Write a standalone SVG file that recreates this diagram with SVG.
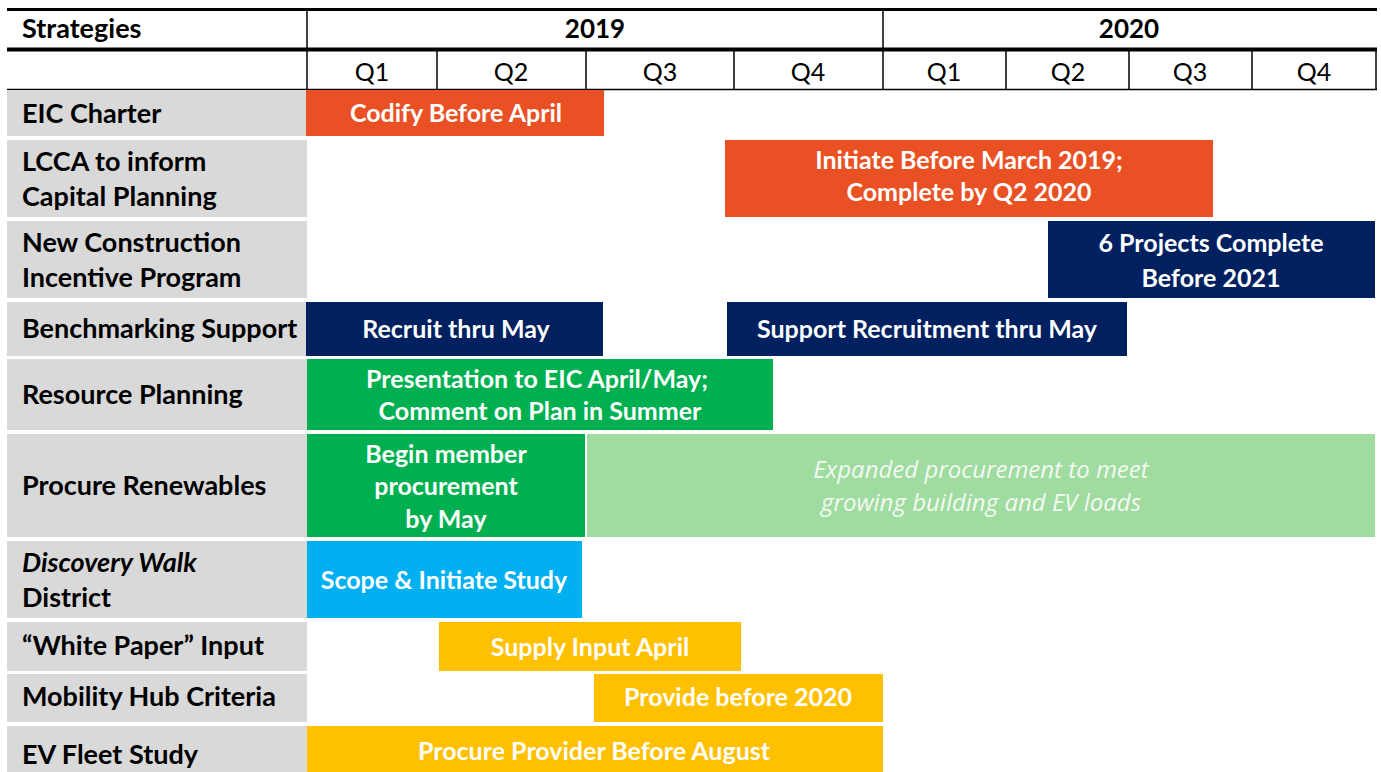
<svg xmlns="http://www.w3.org/2000/svg" width="1381" height="772" viewBox="0 0 1381 772">
<style>
.lbl{font-family:Lato,"Liberation Sans",sans-serif;font-weight:bold;font-size:27px;fill:#000}
.hdr{font-family:Lato,"Liberation Sans",sans-serif;font-weight:bold;font-size:26px;fill:#000;text-anchor:middle}
.q{font-family:Lato,"Liberation Sans",sans-serif;font-size:25px;fill:#000;text-anchor:middle}
.bt{font-family:Lato,"Liberation Sans",sans-serif;font-weight:bold;font-size:25px;fill:#fff;text-anchor:middle}
.it{font-family:"Open Sans","Liberation Sans",sans-serif;font-style:italic;font-size:24px;fill:#f2faf2;text-anchor:middle}
.gray{fill:#d9d9d9}
.ln{stroke:#000;fill:none}
</style>
<rect width="1381" height="772" fill="#fff"/>
<g id="header">
  <line class="ln" x1="7" y1="9.5" x2="1377" y2="9.5" stroke-width="3"/>
  <line class="ln" x1="7" y1="49.5" x2="1377" y2="49.5" stroke-width="4"/>
  <line class="ln" x1="7" y1="89.5" x2="1377" y2="89.5" stroke-width="1.5"/>
  <line class="ln" x1="307" y1="9" x2="307" y2="90" stroke-width="1.5"/>
  <line class="ln" x1="883" y1="9" x2="883" y2="90" stroke-width="1.5"/>
  <line class="ln" x1="437" y1="50" x2="437" y2="90" stroke-width="1.5"/>
  <line class="ln" x1="586" y1="50" x2="586" y2="90" stroke-width="1.5"/>
  <line class="ln" x1="734" y1="50" x2="734" y2="90" stroke-width="1.5"/>
  <line class="ln" x1="1006" y1="50" x2="1006" y2="90" stroke-width="1.5"/>
  <line class="ln" x1="1129" y1="50" x2="1129" y2="90" stroke-width="1.5"/>
  <line class="ln" x1="1252" y1="50" x2="1252" y2="90" stroke-width="1.5"/>
  <line class="ln" x1="1376" y1="50" x2="1376" y2="90" stroke-width="1.5"/>
  <text class="lbl" x="22" y="38">Strategies</text>
  <text class="hdr" x="595" y="38">2019</text>
  <text class="hdr" x="1129" y="38">2020</text>
  <text class="q" x="372" y="81">Q1</text>
  <text class="q" x="511" y="81">Q2</text>
  <text class="q" x="660" y="81">Q3</text>
  <text class="q" x="808" y="81">Q4</text>
  <text class="q" x="944" y="81">Q1</text>
  <text class="q" x="1068" y="81">Q2</text>
  <text class="q" x="1190" y="81">Q3</text>
  <text class="q" x="1314" y="81">Q4</text>
</g>
<g id="row-eic">
  <rect class="gray" x="7" y="90" width="300" height="46"/>
  <text class="lbl" x="22" y="123">EIC Charter</text>
  <rect x="306" y="90" width="298" height="46" fill="#e95125"/>
  <text class="bt" x="456" y="122">Codify Before April</text>
</g>
<g id="row-lcca">
  <rect class="gray" x="7" y="140" width="300" height="77"/>
  <text class="lbl" x="22" y="171">LCCA to inform</text>
  <text class="lbl" x="22" y="206">Capital Planning</text>
  <rect x="725" y="140" width="488" height="77" fill="#e95125"/>
  <text class="bt" x="969" y="169">Initiate Before March 2019;</text>
  <text class="bt" x="969" y="201">Complete by Q2 2020</text>
</g>
<g id="row-newcon">
  <rect class="gray" x="7" y="221" width="300" height="77"/>
  <text class="lbl" x="22" y="252">New Construction</text>
  <text class="lbl" x="22" y="287">Incentive Program</text>
  <rect x="1048" y="221" width="327" height="77" fill="#002060"/>
  <text class="bt" x="1211" y="252">6 Projects Complete</text>
  <text class="bt" x="1211" y="287">Before 2021</text>
</g>
<g id="row-bench">
  <rect class="gray" x="7" y="302" width="300" height="54"/>
  <text class="lbl" x="22" y="338">Benchmarking Support</text>
  <rect x="306" y="302" width="297" height="54" fill="#002060"/>
  <text class="bt" x="456" y="338">Recruit thru May</text>
  <rect x="727" y="302" width="400" height="54" fill="#002060"/>
  <text class="bt" x="927" y="338">Support Recruitment thru May</text>
</g>
<g id="row-resource">
  <rect class="gray" x="7" y="359" width="300" height="71"/>
  <text class="lbl" x="22" y="404">Resource Planning</text>
  <rect x="307" y="359" width="466" height="71" fill="#00b050"/>
  <text class="bt" x="537" y="388">Presentation to EIC April/May;</text>
  <text class="bt" x="540" y="420">Comment on Plan in Summer</text>
</g>
<g id="row-procure">
  <rect class="gray" x="7" y="434" width="300" height="103"/>
  <text class="lbl" x="22" y="495">Procure Renewables</text>
  <rect x="307" y="434" width="278" height="103" fill="#00b050"/>
  <text class="bt" x="446" y="463">Begin member</text>
  <text class="bt" x="446" y="495">procurement</text>
  <text class="bt" x="446" y="528">by May</text>
  <rect x="587" y="434" width="788" height="103" fill="#a0dba0"/>
  <text class="it" x="981" y="478">Expanded procurement to meet</text>
  <text class="it" x="981" y="511">growing building and EV loads</text>
</g>
<g id="row-discovery">
  <rect class="gray" x="7" y="541" width="300" height="77"/>
  <text class="lbl" x="22" y="572" font-style="italic">Discovery Walk</text>
  <text class="lbl" x="22" y="607">District</text>
  <rect x="307" y="541" width="275" height="77" fill="#00b0f0"/>
  <text class="bt" x="444" y="589">Scope &amp; Initiate Study</text>
</g>
<g id="row-whitepaper">
  <rect class="gray" x="7" y="622" width="300" height="49"/>
  <text class="lbl" x="22" y="655">“White Paper” Input</text>
  <rect x="439" y="622" width="302" height="49" fill="#ffc000"/>
  <text class="bt" x="590" y="656">Supply Input April</text>
</g>
<g id="row-mobility">
  <rect class="gray" x="7" y="674" width="300" height="48"/>
  <text class="lbl" x="22" y="706">Mobility Hub Criteria</text>
  <rect x="594" y="674" width="289" height="48" fill="#ffc000"/>
  <text class="bt" x="738" y="706">Provide before 2020</text>
</g>
<g id="row-ev">
  <rect class="gray" x="7" y="726" width="300" height="46"/>
  <text class="lbl" x="22" y="764">EV Fleet Study</text>
  <rect x="307" y="726" width="576" height="46" fill="#ffc000"/>
  <text class="bt" x="594" y="760">Procure Provider Before August</text>
</g>
<g id="connectors"/>
</svg>
